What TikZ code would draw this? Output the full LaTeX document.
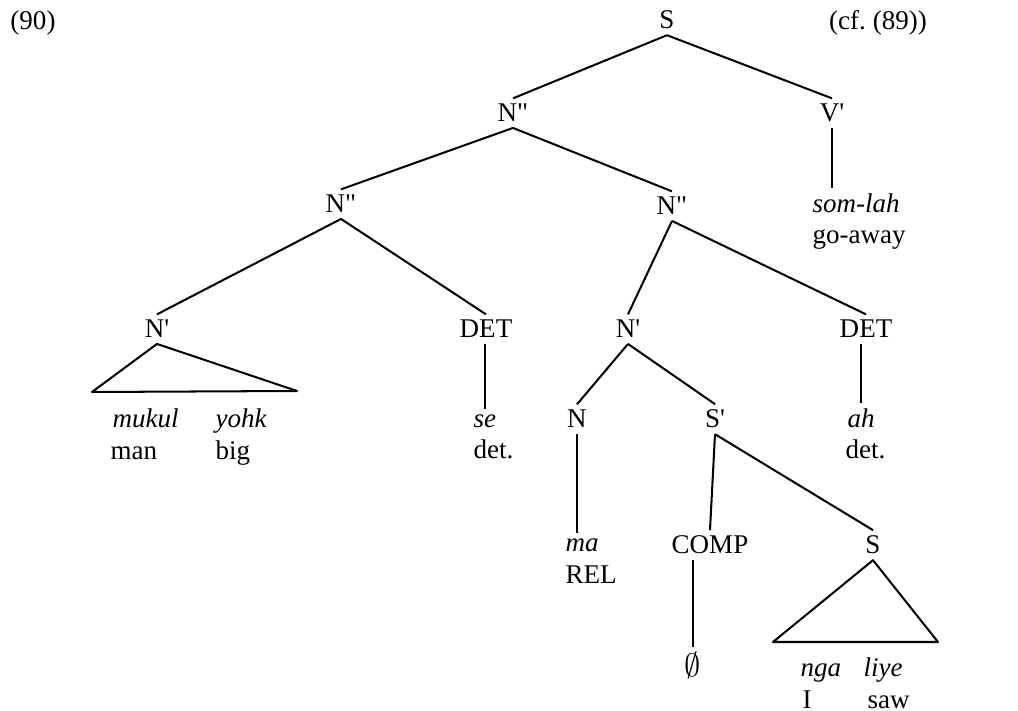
\documentclass[tikz,border=0pt]{standalone}
\usepackage{fontspec}
\setmainfont{Liberation Serif}
\newcommand{\onebar}{\textquotesingle}
\newcommand{\twobar}{\textquotedbl}
\tikzset{
  cat/.style={anchor=base, inner sep=2pt},
  word/.style={anchor=base west, inner xsep=0pt, inner ysep=2pt, font=\itshape},
  gloss/.style={anchor=base west, inner xsep=0pt, inner ysep=2pt},
  branch/.style={line width=0.75pt},
  roof/.style={line width=0.75pt, line join=round},
}

\begin{document}
\begin{tikzpicture}[x=0.37pt,y=-0.37pt]
\useasboundingbox (0,0) rectangle (1018,711);

% example number and cross reference
\node[cat] (num) at (33,30) {(90)};
\node[cat] (cf) at (878,30) {(cf.\ (89))};

% top of the tree
\node[cat] (s) at (667,29) {S};
\node[cat] (nn) at (513,122) {N\twobar};
\node[cat] (v) at (832,122) {V\onebar};
\node[word] (somlah) at (812,213) {som-lah};
\node[gloss] (goaway) at (812,244) {go-away};

% left noun phrase
\node[cat] (nnl) at (341,213) {N\twobar};
\node[cat] (nl) at (157,338) {N\onebar};
\node[cat] (detl) at (486,338) {DET};
\node[word] (mukul) at (112,428) {mukul};
\node[gloss] (man) at (110,460) {man};
\node[word] (yohk) at (215,428) {yohk};
\node[gloss] (big) at (215,460) {big};
\node[word] (se) at (473,428) {se};
\node[gloss] (detse) at (473,459) {det.};

% right noun phrase
\node[cat] (nnr) at (672,215) {N\twobar};
\node[cat] (nr) at (628,338) {N\onebar};
\node[cat] (detr) at (866,338) {DET};
\node[word] (ah) at (847,428) {ah};
\node[gloss] (detah) at (845,459) {det.};
\node[cat] (n) at (577,428) {N};
\node[cat] (sbar) at (715,428) {S\onebar};
\node[word] (ma) at (565,552) {ma};
\node[gloss] (rel) at (565,584) {REL};
\node[cat] (comp) at (710,554) {COMP};
\node[cat] (slow) at (873,554) {S};
\node[cat] (zero) at (693,677) {\large$\emptyset$};
\node[word] (nga) at (800,677) {nga};
\node[gloss] (i) at (802,709) {I};
\node[word] (liye) at (863,677) {liye};
\node[gloss] (saw) at (867,709) {saw};

% roof corners
\coordinate (nlleft) at (92,392);
\coordinate (nlright) at (297,391);
\coordinate (slleft) at (773,642);
\coordinate (slright) at (938,642);

% branches
\draw[branch] (s.south) -- (nn.north);
\draw[branch] (s.south) -- (v.north);
\draw[branch] (v.south) -- (v.south |- somlah.north);
\draw[branch] (nn.south) -- (nnl.north);
\draw[branch] (nn.south) -- (nnr.north);
\draw[branch] (nnl.south) -- (nl.north);
\draw[branch] (nnl.south) -- (detl.north);
\draw[branch] (se.north |- detl.south) -- (se.north);
\draw[branch] (nnr.south) -- (nr.north);
\draw[branch] (nnr.south) -- (detr.north);
\draw[branch] (ah.north |- detr.south) -- (ah.north);
\draw[branch] (nr.south) -- (n.north);
\draw[branch] (nr.south) -- (sbar.north);
\draw[branch] (n.south) -- (n.south |- ma.north);
\draw[branch] (sbar.south) -- (comp.north);
\draw[branch] (sbar.south) -- (slow.north);
\draw[branch] (zero.north |- comp.south) -- (zero.north);

% roofs
\draw[roof] (nl.south) -- (nlleft) -- (nlright) -- cycle;
\draw[roof] (slow.south) -- (slleft) -- (slright) -- cycle;
\end{tikzpicture}
\end{document}
